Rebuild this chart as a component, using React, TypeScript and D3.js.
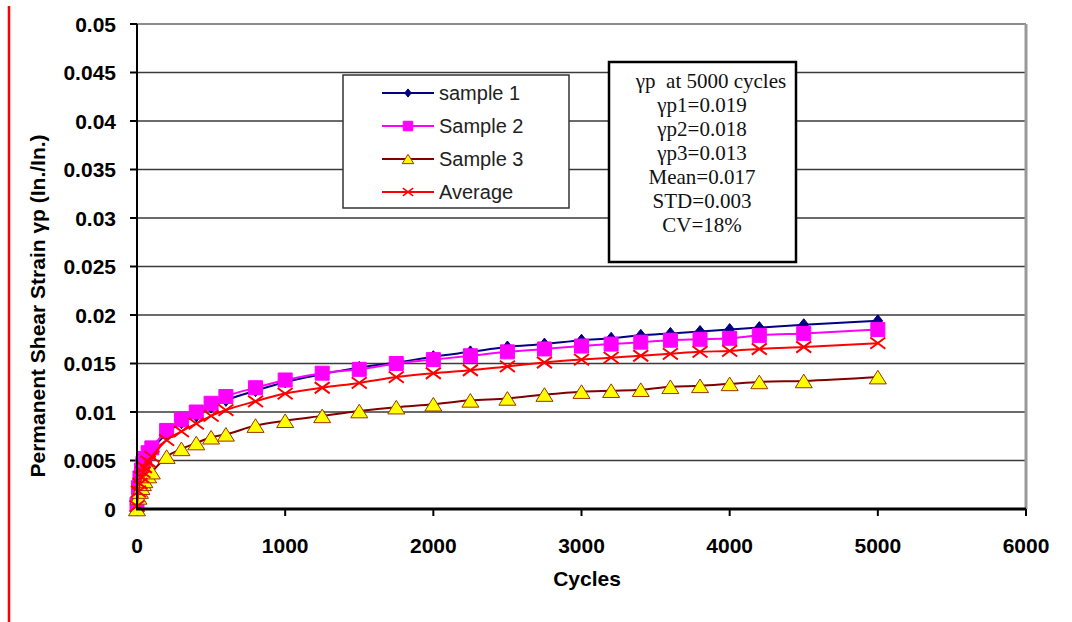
import * as d3 from "d3";

const cycles = [
  0, 10, 20, 30, 40, 50, 75, 100, 200, 300, 400, 500, 600, 800, 1000, 1250,
  1500, 1750, 2000, 2250, 2500, 2750, 3000, 3200, 3400, 3600, 3800, 4000,
  4200, 4500, 5000,
];
const sample1 = [
  0.0003, 0.002, 0.0029, 0.0036, 0.0042, 0.0047, 0.0054, 0.006, 0.0078,
  0.0089, 0.0096, 0.0105, 0.0112, 0.0122, 0.0131, 0.0139, 0.0146, 0.0151,
  0.0157, 0.0162, 0.0167, 0.017, 0.0174, 0.0176, 0.0179, 0.0181, 0.0183,
  0.0185, 0.0187, 0.019, 0.0194,
];
const sample2 = [
  0.0005, 0.0022, 0.0032, 0.004, 0.0047, 0.0052, 0.0058, 0.0063, 0.0081,
  0.0092, 0.01, 0.0109, 0.0116, 0.0125, 0.0133, 0.014, 0.0144, 0.015, 0.0154,
  0.0158, 0.0162, 0.0165, 0.0168, 0.017, 0.0172, 0.0174, 0.0175, 0.0176,
  0.0179, 0.0181, 0.0185,
];
const sample3 = [
  0, 0.0012, 0.0018, 0.0022, 0.0026, 0.0029, 0.0034, 0.0038, 0.0054, 0.0062,
  0.0068, 0.0074, 0.0077, 0.0086, 0.0091, 0.0096, 0.0101, 0.0105, 0.0108,
  0.0112, 0.0114, 0.0118, 0.0121, 0.0122, 0.0123, 0.0126, 0.0127, 0.0129,
  0.0131, 0.0132, 0.0136,
];
const average = [
  0.0003, 0.0018, 0.0026, 0.0033, 0.0038, 0.0043, 0.0049, 0.0054, 0.0071,
  0.008, 0.0088, 0.0096, 0.0102, 0.0111, 0.0119, 0.0125, 0.013, 0.0136, 0.014,
  0.0143, 0.0147, 0.0151, 0.0154, 0.0156, 0.0158, 0.016, 0.0162, 0.0163,
  0.0165, 0.0167, 0.0171,
];

const xTicks = [0, 1000, 2000, 3000, 4000, 5000, 6000];
const yTicks = [0, 0.005, 0.01, 0.015, 0.02, 0.025, 0.03, 0.035, 0.04, 0.045, 0.05];
const seriesNames = ["sample 1", "Sample 2", "Sample 3", "Average"];
const statsLines = [
  "γp  at 5000 cycles",
  "γp1=0.019",
  "γp2=0.018",
  "γp3=0.013",
  "Mean=0.017",
  "STD=0.003",
  "CV=18%",
];

type MarkerKind = "diamond" | "square" | "triangle" | "cross";

const styles: { kind: MarkerKind; line: string; fill: string; stroke: string; size: number }[] = [
  { kind: "diamond", line: "#000080", fill: "#000080", stroke: "#000080", size: 12 },
  { kind: "square", line: "#ff00ff", fill: "#ff00ff", stroke: "#ff00ff", size: 14 },
  { kind: "triangle", line: "#800000", fill: "#ffff00", stroke: "#993300", size: 17 },
  { kind: "cross", line: "#ff0000", fill: "none", stroke: "#ff0000", size: 15 },
];

function markerPath(kind: MarkerKind, cx: number, cy: number, s: number) {
  const h = s / 2;
  if (kind === "diamond") {
    return `M${cx},${cy - h}L${cx + h * 0.8},${cy}L${cx},${cy + h}L${cx - h * 0.8},${cy}Z`;
  }
  if (kind === "square") {
    return `M${cx - h},${cy - h}h${s}v${s}h${-s}Z`;
  }
  if (kind === "triangle") {
    const th = s * 0.8;
    return `M${cx},${cy - th / 2}L${cx + h},${cy + th / 2}L${cx - h},${cy + th / 2}Z`;
  }
  const hy = h * 0.75;
  return `M${cx - h},${cy - hy}L${cx + h},${cy + hy}M${cx - h},${cy + hy}L${cx + h},${cy - hy}`;
}

export default function App() {
  const width = 1072;
  const height = 622;
  const left = 137;
  const right = 1026;
  const top = 24;
  const bottom = 509;

  const x = d3.scaleLinear().domain([0, 6000]).range([left, right]);
  const y = d3.scaleLinear().domain([0, 0.05]).range([bottom, top]);

  const allSeries = [sample1, sample2, sample3, average];

  const line = d3
    .line<number>()
    .x((_, i) => x(cycles[i]))
    .y((d) => y(d))
    .curve(d3.curveMonotoneX);

  const legendX = 343;
  const legendY = 75;
  const statsX = 609;
  const statsY = 62;

  return (
    <svg
      width={width}
      height={height}
      style={{ position: "absolute", left: 0, top: 0, background: "#fff" }}
    >
      <rect x={0} y={0} width={width} height={height} fill="#fff" />
      <line x1={9} y1={6} x2={9} y2={height} stroke="#ff0000" strokeWidth={2.5} />

      {yTicks.slice(1).map((t) => (
        <line key={t} x1={left} x2={right} y1={y(t)} y2={y(t)} stroke="#3a3a3a" strokeWidth={1.4} />
      ))}
      <line x1={left} x2={right} y1={top} y2={top} stroke="#8c8c8c" strokeWidth={2} />
      <line x1={right} x2={right} y1={top} y2={bottom} stroke="#999" strokeWidth={3} />

      {yTicks.map((t) => (
        <g key={t}>
          <line x1={left - 7} x2={left} y1={y(t)} y2={y(t)} stroke="#000" strokeWidth={2} />
          <text
            x={116}
            y={y(t)}
            dy="0.36em"
            textAnchor="end"
            fontFamily="Arial, 'Liberation Sans', sans-serif"
            fontWeight="bold"
            fontSize={21}
            fill="#000"
          >
            {t === 0 ? "0" : String(t)}
          </text>
        </g>
      ))}
      {xTicks.map((t) => (
        <g key={t}>
          <line x1={x(t)} x2={x(t)} y1={bottom} y2={bottom + 7} stroke="#000" strokeWidth={2} />
          <text
            x={x(t)}
            y={553}
            textAnchor="middle"
            fontFamily="Arial, 'Liberation Sans', sans-serif"
            fontWeight="bold"
            fontSize={21}
            fill="#000"
          >
            {t}
          </text>
        </g>
      ))}

      {allSeries.map((vals, si) => {
        const st = styles[si];
        return (
          <g key={si}>
            <path d={line(vals) ?? ""} fill="none" stroke={st.line} strokeWidth={2} />
            {vals.map((v, i) => (
              <path
                key={i}
                d={markerPath(st.kind, x(cycles[i]), y(v), st.size)}
                fill={st.fill}
                stroke={st.stroke}
                strokeWidth={st.kind === "cross" ? 2 : 1}
              />
            ))}
          </g>
        );
      })}

      <line x1={left} x2={left} y1={top} y2={bottom + 1} stroke="#000" strokeWidth={2} />
      <line x1={left - 1} x2={right} y1={bottom} y2={bottom} stroke="#000" strokeWidth={3} />

      <text
        x={587}
        y={586}
        textAnchor="middle"
        fontFamily="Arial, 'Liberation Sans', sans-serif"
        fontWeight="bold"
        fontSize={21}
        fill="#000"
      >
        Cycles
      </text>
      <text
        transform="translate(45,306) rotate(-90)"
        textAnchor="middle"
        fontFamily="Arial, 'Liberation Sans', sans-serif"
        fontWeight="bold"
        fontSize={21}
        fill="#000"
      >
        Permanent Shear Strain γp (In./In.)
      </text>

      <rect x={legendX} y={legendY} width={226} height={133} fill="#fff" stroke="#333" strokeWidth={1.5} />
      {seriesNames.map((name, i) => {
        const st = styles[i];
        const cy = 93 + i * 33;
        return (
          <g key={name}>
            <line x1={382} x2={434} y1={cy} y2={cy} stroke={st.line} strokeWidth={2} />
            <path
              d={markerPath(st.kind, 408, cy, st.size * 0.68)}
              fill={st.fill}
              stroke={st.stroke}
              strokeWidth={st.kind === "cross" ? 1.5 : 1}
            />
            <text
              x={439}
              y={cy}
              dy="0.36em"
              fontFamily="Arial, 'Liberation Sans', sans-serif"
              fontSize={20}
              fill="#222"
            >
              {name}
            </text>
          </g>
        );
      })}

      <rect x={statsX} y={statsY} width={187} height={200} fill="#fff" stroke="#000" strokeWidth={2.5} />
      {statsLines.map((s, i) => (
        <text
          key={s}
          x={i === 0 ? 711 : 702}
          y={88 + i * 24}
          textAnchor="middle"
          fontFamily="'Times New Roman', 'Liberation Serif', serif"
          fontSize={21}
          fill="#111"
          style={{ whiteSpace: "pre" }}
        >
          {s}
        </text>
      ))}
    </svg>
  );
}
